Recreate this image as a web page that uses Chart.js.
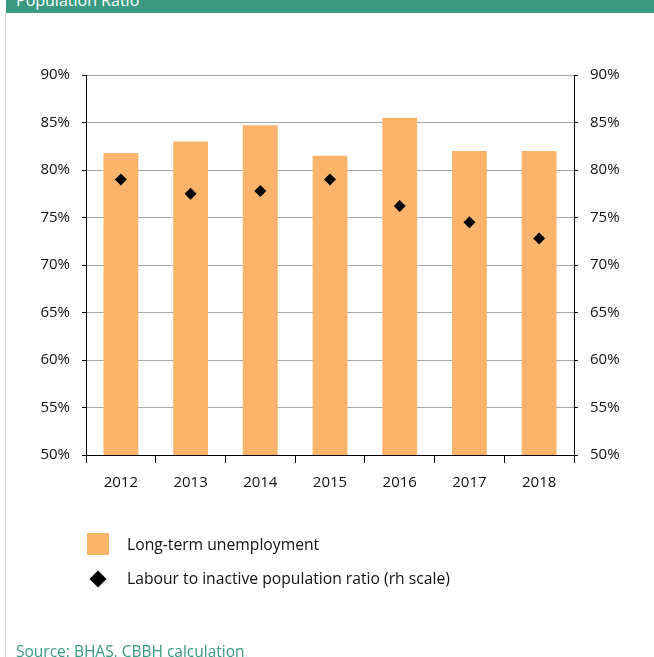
<!DOCTYPE html>
<html>
<head>
<meta charset="utf-8">
<script src="https://cdn.jsdelivr.net/npm/chart.js@4/dist/chart.umd.min.js"></script>
<style>
  html, body { margin: 0; padding: 0; background: #fff; }
  body { width: 654px; height: 657px; position: relative; overflow: hidden; font-family: "Open Sans", sans-serif; }
  #wrap { position: absolute; left: 0; top: 0; width: 654px; height: 657px; }
  .band { position: absolute; left: 6px; top: 0; width: 648px; height: 13px; background: #3a9a82; overflow: hidden; }
  .band span { position: absolute; left: 10px; top: -11px; color: #fff; font-size: 16px; white-space: nowrap; }
  .rule { position: absolute; left: 5px; top: 13px; width: 1px; height: 644px; background: #c8c8c8; }
  .legend { position: absolute; left: 87px; top: 533px; font-size: 15.7px; color: #111; }
  .legend .sq { position: absolute; left: 0; top: 0; width: 22px; height: 22px; background: #fab46c; }
  .legend .dm { position: absolute; left: 5px; top: 40px; width: 12px; height: 12px; background: #000; transform: rotate(45deg); }
  .legend .lbl { position: absolute; left: 40px; white-space: nowrap; }
  .source { position: absolute; left: 16px; top: 640px; font-size: 15.5px; color: #3a9a82; white-space: nowrap; }
</style>
</head>
<body>
<div class="band"><span>Population Ratio</span></div>
<div class="rule"></div>
<div id="wrap"><canvas id="ratioChart" width="654" height="657"></canvas></div>
<div class="legend">
  <span class="sq"></span><span class="lbl" id="lbl0" style="top:0px"></span>
  <span class="dm"></span><span class="lbl" id="lbl1" style="top:34px"></span>
</div>
<div class="source">Source: BHAS, CBBH calculation</div>
<script>
const years = ['2012', '2013', '2014', '2015', '2016', '2017', '2018'];
const longTermUnemployment = [81.8, 83.0, 84.7, 81.5, 85.5, 82.0, 82.0];
const labourToInactive = [79.0, 77.5, 77.8, 79.0, 76.2, 74.5, 72.8];
const seriesNames = ['Long-term unemployment', 'Labour to inactive population ratio (rh scale)'];

document.getElementById('lbl0').textContent = seriesNames[0];
document.getElementById('lbl1').textContent = seriesNames[1];

const tickFont = { family: 'Open Sans', size: 15 };
const pct = v => v + '%';

new Chart(document.getElementById('ratioChart'), {
    type: 'bar',
    data: {
        labels: years,
        datasets: [
            {
                label: seriesNames[1],
                type: 'line',
                data: labourToInactive,
                yAxisID: 'y1',
                showLine: false,
                pointStyle: 'rectRot',
                pointRadius: 6,
                pointBackgroundColor: '#000',
                pointBorderColor: '#000',
                pointBorderWidth: 0
            },
            {
                label: seriesNames[0],
                data: longTermUnemployment,
                yAxisID: 'y',
                backgroundColor: '#fab46c',
                barPercentage: 1,
                categoryPercentage: 0.5
            }
        ]
    },
    options: {
        responsive: false,
        animation: false,
        layout: { padding: { left: 0, right: 0, top: 75, bottom: 162 } },
        plugins: {
            legend: { display: false },
            tooltip: { enabled: false }
        },
        scales: {
            x: {
                offset: true,
                grid: { drawOnChartArea: false, tickLength: 8, tickColor: '#000', offset: true },
                border: { color: '#000', width: 1 },
                ticks: { color: '#111', font: tickFont, padding: 11 },
                afterFit: s => { s.height = 40; }
            },
            y: {
                position: 'left',
                min: 50, max: 90,
                ticks: { stepSize: 5, callback: pct, color: '#111', font: tickFont, padding: 12 },
                grid: { color: '#a6a6a6', tickColor: '#000', tickLength: 4 },
                border: { color: '#000', width: 1 },
                afterFit: s => { s.width = 86; }
            },
            y1: {
                position: 'right',
                min: 50, max: 90,
                ticks: { stepSize: 5, callback: pct, color: '#111', font: tickFont, padding: 12 },
                grid: { drawOnChartArea: false, tickColor: '#000', tickLength: 4 },
                border: { color: '#000', width: 1 },
                afterFit: s => { s.width = 80; }
            }
        }
    }
});
</script>
</body>
</html>
